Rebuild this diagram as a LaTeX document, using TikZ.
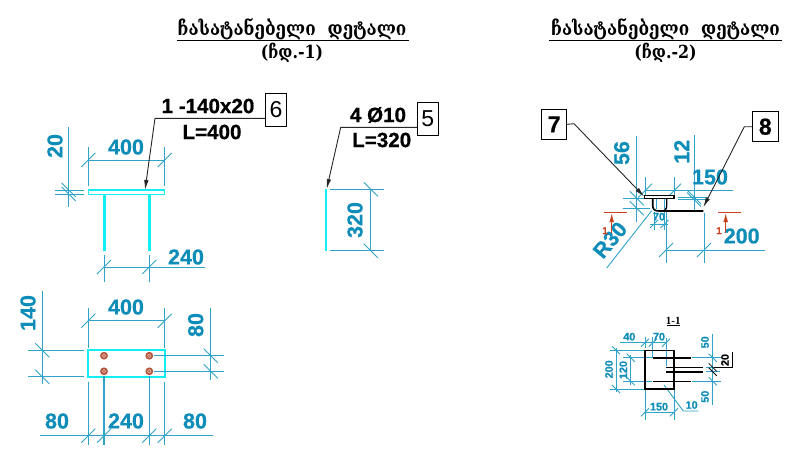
\documentclass[tikz,border=0pt]{standalone}
\usepackage{fontspec}
\setmainfont{Liberation Sans}[BoldFeatures={FakeBold=0.6}]
\newfontfamily\geo{DejaVu Serif}[FakeStretch=0.88]
\newfontfamily\lib{Liberation Serif}
\definecolor{dimc}{HTML}{2FA3C8}
\definecolor{dimt}{HTML}{0E8DB8}
\definecolor{steel}{HTML}{12EFF2}
\definecolor{redc}{HTML}{C8431E}
\definecolor{boltc}{HTML}{B5553C}
\usetikzlibrary{arrows.meta}
\tikzset{
  dim/.style={draw=dimc,line width=0.9pt},
  dimtxt/.style={text=dimt,font=\fontsize{21.5}{21.5}\selectfont\bfseries,inner sep=0pt},
  dimsm/.style={text=dimt,font=\fontsize{10.8}{11}\selectfont\bfseries,inner sep=0pt},
  marktxt/.style={text=black,font=\fontsize{20.6}{20.6}\selectfont\bfseries,inner sep=0pt},
  tagbox/.style={draw=black,fill=white,line width=0.8pt,inner sep=0pt,font=\fontsize{23}{23}\selectfont},
  tagboxb/.style={tagbox,font=\fontsize{23}{23}\selectfont\bfseries},
  leader/.style={draw=black!85,line width=0.9pt,-{Latex[length=10pt,width=4.5pt]}},
  steelbar/.style={draw=steel,line width=3pt},
  blk/.style={draw=black,line width=1.6pt},
  titletxt/.style={font=\geo\bfseries\fontsize{19.4}{19.4}\selectfont,inner sep=0pt},
  subtxt/.style={font=\geo\bfseries\fontsize{18}{18}\selectfont,inner sep=0pt},
  sect/.style={draw=redc,line width=1pt},
  secttxt/.style={text=redc,font=\fontsize{10}{10}\selectfont\bfseries,inner sep=0pt}
}
\newcommand\tkF[2]{\draw[dim] (#1,#2) +(-7,7) -- +(7,-7);}
\newcommand\tkB[2]{\draw[dim] (#1,#2) +(-7,-7) -- +(7,7);}
\newcommand\tsF[2]{\draw[dim] (#1,#2) +(-4,4) -- +(4,-4);}
\newcommand\tsB[2]{\draw[dim] (#1,#2) +(-4,-4) -- +(4,4);}
\begin{document}
\begin{tikzpicture}[x=1pt,y=-1pt]
\fill[white] (0,0) rectangle (795,450);
\useasboundingbox (0,0) rectangle (795,450);
% titles
\node[titletxt] (t1) at (292,29) {ჩასატანებელი\ \ დეტალი};
\draw[black,line width=0.9pt] (176.7,40) -- (409,40);
\node[subtxt] (s1) at (292,53) {(ჩდ.-1)};
\node[titletxt] (t2) at (665.5,29) {ჩასატანებელი\ \ დეტალი};
\draw[black,line width=0.9pt] (549,40) -- (781.7,40);
\node[subtxt] (s2) at (665.5,53) {(ჩდ.-2)};

% --- elevation 1
\draw[dim] (88.3,147) -- (88.3,186) (164.7,147) -- (164.7,186);
\draw[dim] (88.3,160) -- (164.7,160);
\tkF{88.3}{160}\tkF{164.7}{160}
\node[dimtxt] at (126,147) {400};
\draw[dim] (68.7,127) -- (68.7,207);
\draw[dim] (55,190) -- (84,190) (55,194) -- (84,194);
\tkB{68.7}{190}\tkB{68.7}{194}
\node[dimtxt,rotate=90] at (55,146) {20};
\draw[draw=steel,line width=1.5pt] (88.3,190) rectangle (164.7,194.3);
\draw[steelbar] (104,194.3) -- (104,250.7) (149.3,194.3) -- (149.3,250.7);
\draw[dim] (104,255) -- (104,282) (149.3,255) -- (149.3,282);
\draw[dim] (104,267) -- (205,267);
\tkF{104}{267}\tkF{149.3}{267}
\node[dimtxt] at (186,257) {240};
\node[tagbox,minimum width=21.5pt,minimum height=33pt] (b6) at (276,109.5) {6};
\node[marktxt] at (208,106) {1 -140x20};
\node[marktxt] at (212,132) {L=400};
\coordinate (e6) at (155,118.3);
\coordinate (p6) at (145,190);
\draw[leader] ([yshift=-8.8pt]b6.west) -- (e6) -- (p6);

% --- plan 1
\draw[draw=steel,line width=2pt] (88.3,350.3) rectangle (164.7,376.7);
\foreach \bx/\by/\bn in {104/355.7/a,149.3/355.7/b,104/371.3/c,149.3/371.3/d}{
  \fill[boltc] (\bx,\by) circle (3.9);
  \draw[white!70!boltc,line width=0.5pt] (\bx,\by) circle (1.8);
}
\draw[dim] (88.3,307.7) -- (88.3,347.7) (164.7,307.7) -- (164.7,347.7);
\draw[dim] (88.3,320.7) -- (164.7,320.7);
\tkF{88.3}{320.7}\tkF{164.7}{320.7}
\node[dimtxt] at (126,307) {400};
\draw[dim] (42.3,291) -- (42.3,384);
\draw[dim] (28,350.3) -- (84,350.3) (28,376.7) -- (84,376.7);
\tkB{42.3}{350.3}\tkB{42.3}{376.7}
\node[dimtxt,rotate=90] at (28,313) {140};
\draw[dim] (210.7,307.7) -- (210.7,380);
\draw[dim] (154,355.7) -- (224,355.7) (154,371.3) -- (224,371.3);
\tkB{210.7}{355.7}\tkB{210.7}{371.3}
\node[dimtxt,rotate=90] at (195.7,325) {80};
\draw[dim] (40,435.7) -- (213,435.7);
\draw[dim] (88.3,381.7) -- (88.3,445) (164.7,381.7) -- (164.7,445);
\draw[dim,line width=1.4pt] (104,376) -- (104,445) (149.3,376) -- (149.3,445);
\tkF{88.3}{435.7}\tkF{104}{435.7}\tkF{149.3}{435.7}\tkF{164.7}{435.7}
\node[dimtxt] at (57,421) {80};
\node[dimtxt] at (126,421) {240};
\node[dimtxt] at (195,421) {80};

% --- middle bar
\draw[steelbar,line width=1.8pt] (326.3,189.3) -- (326.3,250.7);
\draw[dim] (330,189.3) -- (384,189.3) (330,250.7) -- (384,250.7);
\draw[dim] (370.7,189.3) -- (370.7,250.7);
\tkB{370.7}{189.3}\tkB{370.7}{250.7}
\node[dimtxt,rotate=90] at (355,220) {320};
\node[tagbox,minimum width=21pt,minimum height=32.5pt] (b5) at (427.8,118.8) {5};
\node[marktxt] at (378,115) {4 Ø10};
\node[marktxt] at (381.7,140) {L=320};
\coordinate (e5) at (340.7,127.3);
\coordinate (p5) at (326.7,189);
\draw[leader] ([yshift=-8.5pt]b5.west) -- (e5) -- (p5);

% --- detail 2 elevation
\draw[dim] (636.7,136) -- (636.7,221.7);
\draw[dim] (622.7,198.3) -- (645,198.3) (622.7,208.3) -- (650,208.3);
\tkB{636.7}{198.3}\tkB{636.7}{208.3}
\node[dimtxt,rotate=90] at (621.7,153) {56};
\draw[dim] (694,135) -- (694,210);
\draw[dim] (677.7,197.3) -- (708,197.3) (677.7,199.3) -- (708,199.3);
\tkB{694}{197}\tkB{694}{199.5}
\node[dimtxt,rotate=90] at (681.7,151.7) {12};
\draw[dim] (645,190.7) -- (733,190.7);
\draw[dim] (645,177) -- (645,195) (674,177) -- (674,195);
\tkF{645}{190.7}\tkF{674}{190.7}
\node[dimtxt] at (710,177) {150};
\draw[dim] (666,212) -- (666,263) (704,213) -- (704,263);
\draw[dim] (666,250) -- (765,250);
\tkF{666}{250}\tkF{704}{250}
\node[dimtxt] at (741.7,236) {200};
\draw[dim] (606.7,268) -- (651.7,210.7);
\node[dimtxt,rotate=50] at (610,240) {R30};
\draw[dim] (650,224) -- (668,224) (654,212) -- (654,230) (664.5,212) -- (664.5,230);
\tsF{654}{224}\tsF{664.5}{224}
\node[dimsm] at (659,216.7) {70};
\draw[dim] (656,199) -- (656,209) (664,199) -- (664,209);
\draw[draw=black,line width=1.3pt,fill=white] (644.5,195.8) rectangle (674,198.4);
\draw[blk] (652.7,198.4) -- (652.7,205) .. controls (652.7,209) and (654,211) .. (659,211) -- (703.3,211);
\draw[draw=black,line width=1.3pt] (666.7,198.4) -- (666.7,205) .. controls (666.7,209) and (665.5,211) .. (661,211);
% section marks
\draw[sect] (604,212.7) -- (626.7,212.7) (718,212.7) -- (740.7,212.7);
\draw[sect,-{Latex[length=9pt,width=5pt]}] (611.7,233) -- (611.7,213.2);
\draw[sect,-{Latex[length=9pt,width=5pt]}] (725.7,233) -- (725.7,213.2);
\node[secttxt] at (605,230.7) {1};
\node[secttxt] at (719,230.7) {1};
\node[tagboxb,minimum width=25pt,minimum height=30pt] (b7) at (554.2,124.3) {7};
\node[tagboxb,minimum width=26pt,minimum height=30pt] (b8) at (765.3,126.7) {8};
\coordinate (e7) at (574,123.7);
\coordinate (p7) at (644.3,196.7);
\coordinate (e8) at (744.3,126.7);
\coordinate (p8) at (703.3,207.3);
\draw[leader] (b7.east) -- (e7) -- (p7);
\draw[leader] (b8.west) -- (e8) -- (p8);

% --- section 1-1
\node[font=\lib\bfseries\fontsize{11}{11}\selectfont,inner sep=0pt] (s11) at (673.3,320.5) {1-1};
\draw[black,line width=0.8pt] (667,325.7) -- (679.5,325.7);
\draw[dim] (616,347.7) -- (616,392);
\draw[dim] (610,350.3) -- (645,350.3) (610,389) -- (645,389);
\tsB{616}{350.3}\tsB{616}{389}
\node[dimsm,rotate=90] at (609,369.3) {200};
\draw[dim] (630.7,355) -- (630.7,385);
\draw[dim] (623,357.7) -- (652,357.7) (623,381.3) -- (652,381.3);
\tsB{630.7}{357.7}\tsB{630.7}{381.3}
\node[dimsm,rotate=90] at (623.3,370) {120};
\draw[dim] (620,342.7) -- (667,342.7);
\draw[dim] (645,337) -- (645,348) (652.7,337) -- (652.7,358) (666,337.7) -- (666,365.7);
\tsF{645}{342.7}\tsF{652.7}{342.7}\tsF{666}{342.7}
\node[dimsm] at (629.3,336.7) {40};
\node[dimsm] at (659,336.7) {70};
\draw[dim] (712.7,334) -- (712.7,405);
\draw[dim] (692,357.7) -- (720.7,357.7) (692,381.3) -- (720.7,381.3);
\draw[dim] (706,367.3) -- (720,367.3) (706,371.7) -- (720,371.7);
\tsB{712.7}{357.7}\tsB{712.7}{381.3}
\draw[draw=black,line width=0.8pt] (712.7,367.3) +(-4,-4) -- +(4,4) (712.7,371.7) +(-4,-4) -- +(4,4);
\node[dimsm,rotate=90] at (705,342.3) {50};
\node[dimsm,rotate=90] at (705,396.7) {50};
\node[font=\fontsize{10.8}{11}\selectfont\bfseries,inner sep=0pt,rotate=90] at (725,360) {20};
\draw[draw=black,line width=0.7pt] (714,367.3) -- (732.7,367.3) -- (732.7,351.7);
\draw[dim] (644.3,412.3) -- (674,412.3);
\draw[dim] (645,389) -- (645,420) (674,389) -- (674,420);
\tsF{645}{412.3}\tsF{674}{412.3}
\node[dimsm] at (659,406.7) {150};
\draw[dim] (664,385) -- (683.3,411) -- (698.3,411);
\node[dimsm] at (691.7,405) {10};
\draw[draw=black,line width=1.5pt] (645,350.3) rectangle (674,389);
\draw[blk] (652.7,357.7) -- (690.7,357.7) (652.7,381.3) -- (690.7,381.3);
\draw[blk] (666,367.3) -- (703.3,367.3) (666,371.7) -- (703.3,371.7);
\end{tikzpicture}
\end{document}
